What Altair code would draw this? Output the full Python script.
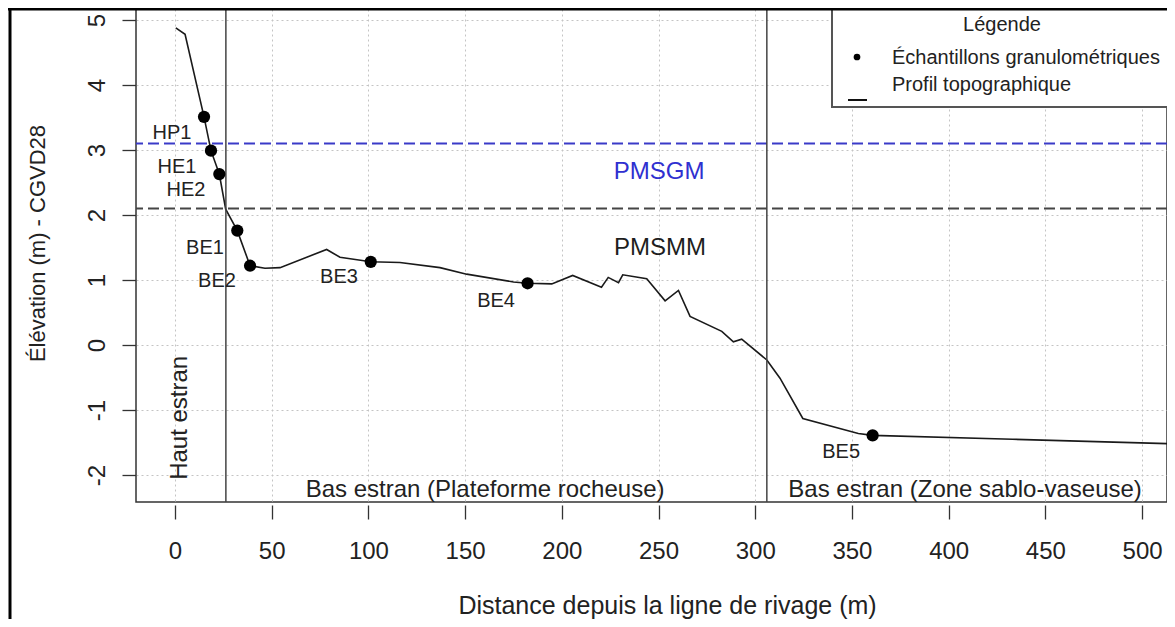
import altair as alt
import pandas as pd

# ---- data ----
distance = [0.4, 5.2, 15.0, 18.6, 22.9, 26.2, 32.2, 38.8, 46.5, 54.3, 78.4, 85.3,
            101.2, 116.3, 137.0, 150.8, 175.0, 182.3, 194.8, 205.6, 220.5, 224.0,
            229.3, 231.5, 243.9, 253.4, 260.3, 266.3, 282.7, 288.7, 293.0, 306.0,
            312.8, 324.6, 353.3, 360.7, 433.0, 517.0, 525.0]
elevation = [4.88, 4.78, 3.51, 2.99, 2.63, 2.09, 1.76, 1.22, 1.18, 1.19, 1.47, 1.35,
             1.28, 1.27, 1.19, 1.09, 0.97, 0.95, 0.94, 1.07, 0.89, 1.04,
             0.96, 1.08, 1.02, 0.68, 0.84, 0.44, 0.21, 0.05, 0.09, -0.23,
             -0.51, -1.13, -1.36, -1.39, -1.45, -1.52, -1.53]

sample_names = ["HP1", "HE1", "HE2", "BE1", "BE2", "BE3", "BE4", "BE5"]
sample_x = [15.0, 18.6, 22.9, 32.2, 38.8, 101.2, 182.3, 360.7]
sample_y = [3.51, 2.99, 2.63, 1.76, 1.22, 1.28, 0.95, -1.39]
sample_label_x = [-1.6, 1.0, 5.7, 15.5, 21.7, 84.8, 166.0, 344.4]
sample_label_y = [3.26, 2.74, 2.38, 1.49, 0.98, 1.05, 0.68, -1.65]

level_names = ["PMSGM", "PMSMM"]
level_y = [3.1, 2.1]
level_label_x = [250.3, 250.8]
level_label_y = [2.66, 1.49]

zone_limits = [26.3, 306.0]
zone_names = ["Bas estran (Plateforme rocheuse)", "Bas estran (Zone sablo-vaseuse)"]
zone_label_x = [160.3, 408.5]
zone_label_y = [-2.34, -2.34]
haut_label = "Haut estran"
haut_x, haut_y = 2.6, -1.12

x_ticks = list(range(0, 501, 50))
y_ticks = list(range(-2, 6))

legend_title = "Légende"
legend_items = ["Échantillons granulométriques", "Profil topographique"]

# ---- tables ----
profile = pd.DataFrame({"d": distance, "e": elevation})
samples = pd.DataFrame({"name": sample_names, "d": sample_x, "e": sample_y,
                        "lx": sample_label_x, "ly": sample_label_y})
levels = pd.DataFrame({"name": level_names, "e": level_y,
                       "lx": level_label_x, "ly": level_label_y})
zones = pd.DataFrame({"d": zone_limits})
zone_labels = pd.DataFrame({"name": zone_names, "lx": zone_label_x, "ly": zone_label_y})
haut = pd.DataFrame({"name": [haut_label], "lx": [haut_x], "ly": [haut_y]})
one = pd.DataFrame({"k": [0]})

FONT = "Liberation Sans"
W, H = 1031, 493

xs = alt.Scale(domain=[-20.17, 512.9], nice=False, zero=False)
ys = alt.Scale(domain=[-2.415, 5.169], nice=False, zero=False)

x_axis = alt.Axis(values=x_ticks, labelExpr="'' + datum.value",
                  title="Distance depuis la ligne de rivage (m)",
                  grid=True, gridDash=[2, 3], gridColor="#c4c4c4", gridWidth=1,
                  domain=False, tickSize=14, tickColor="#333333", tickWidth=1.3, offset=3,
                  labelFont=FONT, labelFontSize=24, labelColor="#222222",
                  labelBaseline="alphabetic", labelPadding=39, labelFlush=False,
                  labelOverlap=False,
                  titleFont=FONT, titleFontSize=25, titleFontWeight="normal",
                  titleColor="#222222", titleX=531, titleY=108,
                  titleBaseline="alphabetic", titleAlign="center")
y_axis = alt.Axis(values=y_ticks, labelExpr="'' + datum.value",
                  title="Élévation (m) - CGVD28",
                  grid=True, gridDash=[2, 3], gridColor="#c4c4c4", gridWidth=1,
                  domain=False, tickSize=14, tickColor="#333333", tickWidth=1.3,
                  labelFont=FONT, labelFontSize=24, labelColor="#222222",
                  labelAngle=270, labelAlign="center", labelBaseline="alphabetic",
                  labelPadding=18, labelFlush=False, labelOverlap=False,
                  titleFont=FONT, titleFontSize=22, titleFontWeight="normal",
                  titleColor="#222222", titleAngle=270, titleX=-99, titleY=234,
                  titleBaseline="middle", titleAlign="center")

line = alt.Chart(profile).mark_line(color="#1a1a1a", strokeWidth=1.6, clip=True).encode(
    x=alt.X("d:Q", scale=xs, axis=x_axis),
    y=alt.Y("e:Q", scale=ys, axis=y_axis),
)

level_rules = alt.Chart(levels).mark_rule(strokeDash=[11, 5], strokeWidth=2).encode(
    y=alt.Y("e:Q", scale=ys),
    color=alt.Color("name:N", scale=alt.Scale(domain=level_names, range=["#3a3ac8", "#454545"]),
                    legend=None),
)

zone_rules = alt.Chart(zones).mark_rule(color="#444444", strokeWidth=1.5).encode(
    x=alt.X("d:Q", scale=xs),
)

points = alt.Chart(samples).mark_point(filled=True, shape="circle", size=150,
                                       color="#000000", opacity=1).encode(
    x=alt.X("d:Q", scale=xs), y=alt.Y("e:Q", scale=ys),
)

sample_text = alt.Chart(samples).mark_text(font=FONT, fontSize=20, color="#222222",
                                           align="center", baseline="middle").encode(
    x=alt.X("lx:Q", scale=xs), y=alt.Y("ly:Q", scale=ys), text="name:N",
)

level_text = alt.Chart(levels).mark_text(font=FONT, fontSize=24, align="center",
                                         baseline="middle").encode(
    x=alt.X("lx:Q", scale=xs), y=alt.Y("ly:Q", scale=ys), text="name:N",
    color=alt.Color("name:N", scale=alt.Scale(domain=level_names, range=["#3030d0", "#1e1e1e"]),
                    legend=None),
)

zone_text = alt.Chart(zone_labels).mark_text(font=FONT, fontSize=24, color="#222222",
                                             align="center", baseline="alphabetic").encode(
    x=alt.X("lx:Q", scale=xs), y=alt.Y("ly:Q", scale=ys), text="name:N",
)

haut_text = alt.Chart(haut).mark_text(font=FONT, fontSize=24, color="#222222", angle=270,
                                      align="center", baseline="middle").encode(
    x=alt.X("lx:Q", scale=xs), y=alt.Y("ly:Q", scale=ys), text="name:N",
)

# outer frame of the figure
frame_left = alt.Chart(one).mark_rule(color="#000000", strokeWidth=3).encode(
    x=alt.value(-126), y=alt.value(-1), y2=alt.value(620))
frame_top = alt.Chart(one).mark_rule(color="#000000", strokeWidth=3).encode(
    x=alt.value(-128), x2=alt.value(W + 10), y=alt.value(0))

# legend box
leg_box = alt.Chart(one).mark_rect(fill="white", stroke="#555555", strokeWidth=2).encode(
    x=alt.value(696), x2=alt.value(W + 20), y=alt.value(0), y2=alt.value(98))
leg_title = alt.Chart(one).mark_text(font=FONT, fontSize=20, color="#222222",
                                     align="center", baseline="middle",
                                     text=legend_title).encode(
    x=alt.value(866), y=alt.value(16))
leg_t1 = alt.Chart(one).mark_text(font=FONT, fontSize=20, color="#222222",
                                  align="left", baseline="middle",
                                  text=legend_items[0]).encode(
    x=alt.value(756), y=alt.value(49))
leg_t2 = alt.Chart(one).mark_text(font=FONT, fontSize=20, color="#222222",
                                  align="left", baseline="middle",
                                  text=legend_items[1]).encode(
    x=alt.value(756), y=alt.value(76))
leg_dot = alt.Chart(one).mark_point(filled=True, shape="circle", size=45,
                                    color="#000000", opacity=1).encode(
    x=alt.value(721), y=alt.value(48))
leg_dash = alt.Chart(one).mark_rule(color="#111111", strokeWidth=2).encode(
    x=alt.value(712), x2=alt.value(731), y=alt.value(91))

chart = alt.layer(
    line, level_rules, zone_rules, points, sample_text, level_text, zone_text, haut_text,
    leg_box, leg_title, leg_t1, leg_t2, leg_dot, leg_dash, frame_left, frame_top,
).resolve_scale(color="independent").properties(
    width=W, height=H,
    autosize=alt.AutoSizeParams(type="none"),
    padding={"left": 128, "top": 1, "right": 0, "bottom": 117},
    background="white",
).configure_view(stroke="#333333", strokeWidth=1.5)

chart.save("out.html", embed_options={"renderer": "svg", "actions": False})
